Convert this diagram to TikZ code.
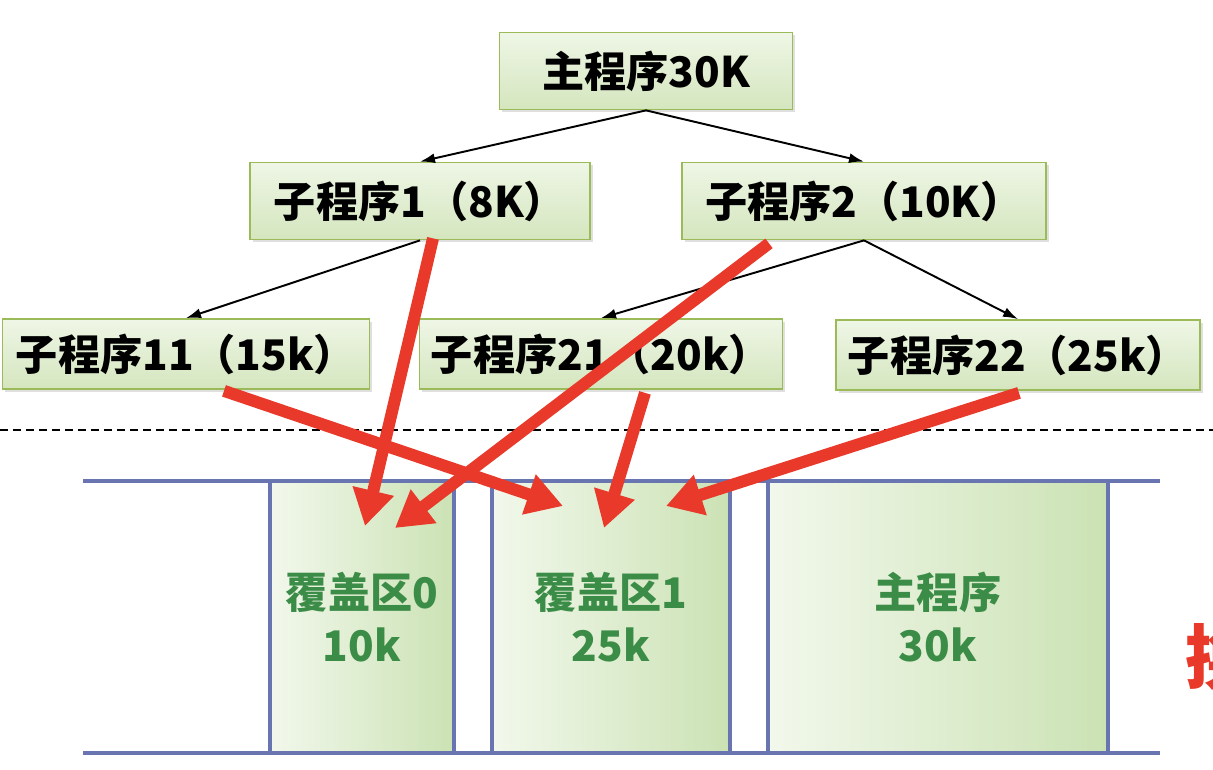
\documentclass[tikz,border=0pt]{standalone}
\usepackage{fontspec}
\setmainfont{Noto Sans CJK SC}
\usetikzlibrary{arrows.meta, calc, shadows}
\definecolor{myred}{RGB}{232, 57, 42}
\definecolor{mygreen}{RGB}{59, 140, 71}
\definecolor{myblue}{RGB}{104, 117, 176}
\definecolor{boxline}{RGB}{155, 187, 89}
\definecolor{boxtop}{RGB}{239, 246, 230}
\definecolor{boxbot}{RGB}{212, 230, 190}
\definecolor{arealeft}{RGB}{242, 248, 236}
\definecolor{arearight}{RGB}{203, 226, 180}

\tikzset{
prog/.style={draw=boxline, line width=1pt, top color=boxtop, bottom color=boxbot,
  inner sep=0pt, minimum height=1.54cm, font=\fontsize{24}{28}\selectfont\bfseries,
  drop shadow={shadow xshift=1.5pt, shadow yshift=-1.5pt, opacity=0.25}},
area/.style={draw=myblue, line width=2.3pt, left color=arealeft, right color=arearight,
  inner sep=0pt, minimum height=5.44cm, align=center, text=mygreen,
  font=\fontsize{24}{30}\selectfont\bfseries},
call/.style={line width=1.1pt, -{Latex[length=0.3cm, width=0.2cm]}},
red arrow/.style={myred, line width=0.24cm, -{Triangle[length=0.72cm, width=0.8cm]}}
}

\begin{document}
\begin{tikzpicture}[x=0.02cm, y=-0.02cm]
\clip (0,0) rectangle (1213,770);

%tree
\node[prog, minimum width=5.86cm] (main) at (646,71) {主程序30K};
\node[prog, minimum width=6.8cm] (s1) at (420,201) {子程序1（8K）};
\node[prog, minimum width=7.28cm] (s2) at (864,201) {子程序2（10K）};
\node[prog, minimum width=7.34cm, minimum height=1.4cm] (s11) at (186,354) {子程序11（15k）};
\node[prog, minimum width=7.26cm, minimum height=1.4cm] (s21) at (601,354) {子程序21（20k）};
\node[prog, minimum width=7.28cm, minimum height=1.4cm] (s22) at (1018,355) {子程序22（25k）};

\draw[call] (main.south) -- (s1.north);
\draw[call] (main.south) -- (s2.north);
\draw[call] (s1.south) -- (s11.north);
\draw[call] (s2.south) -- (s21.north);
\draw[call] (s2.south) -- (s22.north);

%dashed line
\coordinate (D1) at (0,430);
\coordinate (D2) at (1213,430);
\draw[line width=1.2pt, dash pattern=on 0.16cm off 0.1cm] (D1) -- (D2);

%memory
\coordinate (M1) at (83,481);
\coordinate (M2) at (1160,481);
\coordinate (M3) at (83,753);
\coordinate (M4) at (1160,753);
\draw[myblue, line width=2.3pt] (M1) -- (M2) (M3) -- (M4);

\node[area, minimum width=3.68cm] (ov0) at (362,617) {覆盖区0\\10k};
\node[area, minimum width=4.76cm] (ov1) at (611,617) {覆盖区1\\25k};
\node[area, minimum width=6.8cm] (mp) at (938,617) {主程序\\30k};

\node[text=myred, inner sep=0pt, anchor=west, font=\fontsize{40}{40}\selectfont\bfseries] (hz) at (1185,657) {换};

%red arrows
\draw[red arrow] ($(s1.south)+(13,-2)$) -- ($(ov0.north)+(3,47)$);
\draw[red arrow] ($(s2.south)+(-95,3)$) -- ($(ov0.north)+(33,49)$);
\draw[red arrow] ($(s11.south)+(38,1)$) -- ($(ov1.north)+(-48,27)$);
\draw[red arrow] ($(s21.south)+(44,3)$) -- ($(ov1.north)+(-7,49)$);
\draw[red arrow] ($(s22.south)+(1,2)$) -- ($(ov1.north)+(55,27)$);

\end{tikzpicture}
\end{document}
